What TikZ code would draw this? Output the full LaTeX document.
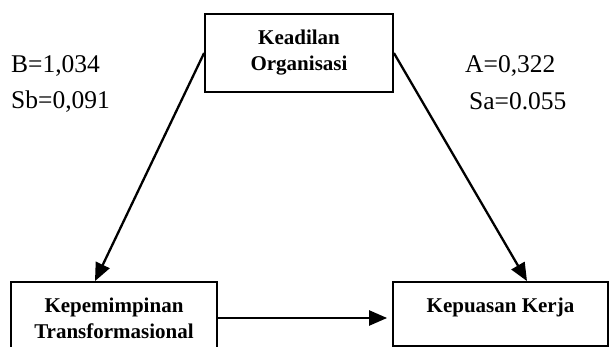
\documentclass[tikz,border=0pt]{standalone}
\usepackage{fontspec}
\setmainfont{Liberation Serif}
\usetikzlibrary{arrows.meta}
\tikzset{
  box/.style={
    rectangle,
    draw=black,
    line width=1.8pt,
    align=center,
    inner sep=0pt,
    font=\fontsize{21}{26}\selectfont\bfseries
  },
  coef/.style={
    anchor=base west,
    inner sep=0pt,
    font=\fontsize{25.5}{30}\selectfont
  },
  arrow/.style={-{Triangle[length=18pt,width=15pt]}, line width=2.3pt}
}

\begin{document}
\begin{tikzpicture}[x=1pt,y=-1pt]
    \useasboundingbox (0,0) rectangle (609,347);

    \node[box, minimum width=188pt, minimum height=78pt] (org) at (299,53) {Keadilan\\Organisasi};
    \node[box, minimum width=206pt, minimum height=72pt] (kt) at (114,318) {Kepemimpinan\\Transformasional};
    \node[box, minimum width=215pt, minimum height=64pt, text depth=16.7pt] (kp) at (500.5,314) {Kepuasan Kerja};

    \node[coef] (b) at (11,73) {B=1,034};
    \node[coef] (sb) at (11,109) {Sb=0,091};
    \node[coef] (a) at (465,73) {A=0,322};
    \node[coef] (sa) at (469,110) {Sa=0.055};

    \draw[arrow] (org.west) -- ([xshift=-19pt]kt.north);
    \draw[arrow] (org.east) -- ([xshift=26.5pt]kp.north);
    \draw[arrow, shorten >=5pt] (kt.east) -- (kt.east -| kp.west);
\end{tikzpicture}
\end{document}
